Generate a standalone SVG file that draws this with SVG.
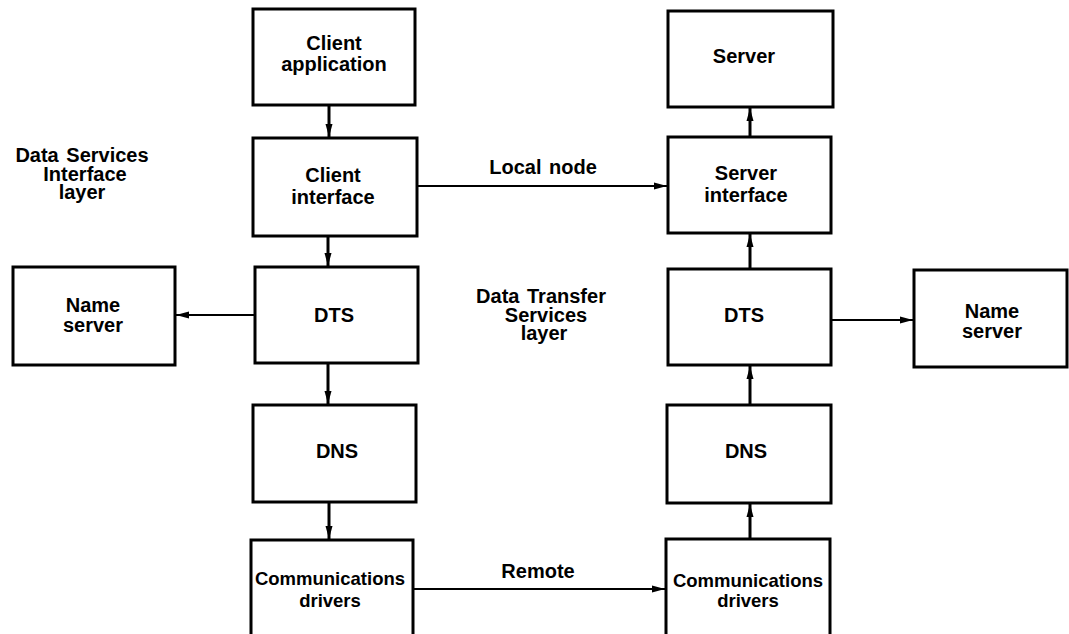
<svg xmlns="http://www.w3.org/2000/svg" width="1069" height="634" viewBox="0 0 1069 634">
<style>
.box{fill:#fff;stroke:#000;stroke-width:3}
.t{font-family:"Liberation Sans",Arial,sans-serif;font-weight:bold;font-size:20px;word-spacing:2px;fill:#000;text-anchor:middle}
.s{font-size:18.5px;word-spacing:0}
.c{stroke:#000;stroke-width:3;fill:none;marker-end:url(#ah)}
.h{stroke-width:2.2}
</style>
<defs>
<marker id="ah" markerUnits="userSpaceOnUse" markerWidth="14" markerHeight="9" refX="13" refY="4" orient="auto">
<path d="M0,0.5 L13,4 L0,7.5 z" fill="#000"/>
</marker>
</defs>
<rect width="1069" height="634" fill="#fff"/>
<g id="connectors">
<line class="c" x1="329" y1="105" x2="329" y2="137"/>
<line class="c" x1="328" y1="236" x2="328" y2="266"/>
<line class="c" x1="328" y1="363" x2="328" y2="404"/>
<line class="c" x1="329" y1="502" x2="329" y2="539"/>
<line class="c h" x1="255" y1="315" x2="176" y2="315"/>
<line class="c h" x1="417" y1="186" x2="667" y2="186"/>
<line class="c h" x1="413" y1="589" x2="665" y2="589"/>
<line class="c" x1="750" y1="539" x2="750" y2="504"/>
<line class="c" x1="750" y1="405" x2="750" y2="366"/>
<line class="c" x1="750" y1="269" x2="750" y2="234"/>
<line class="c" x1="750" y1="137" x2="750" y2="108"/>
<line class="c h" x1="831" y1="320" x2="913" y2="320"/>
</g>
<g id="layer-labels">
<text class="t" x="82" y="162">Data Services</text>
<text class="t" x="85" y="181">Interface</text>
<text class="t" x="82" y="199">layer</text>
<text class="t" x="543" y="174">Local node</text>
<text class="t" x="541" y="303">Data Transfer</text>
<text class="t" x="546" y="322">Services</text>
<text class="t" x="544" y="340">layer</text>
<text class="t" x="538" y="578">Remote</text>
</g>
<g id="client-application">
<rect class="box" x="253" y="9" width="162" height="96"/>
<text class="t" x="334" y="50">Client</text>
<text class="t" x="334" y="71">application</text>
</g>
<g id="client-interface">
<rect class="box" x="253" y="138" width="164" height="98"/>
<text class="t" x="333" y="182">Client</text>
<text class="t" x="333" y="204">interface</text>
</g>
<g id="dts-left">
<rect class="box" x="255" y="267" width="163" height="96"/>
<text class="t" x="334" y="322">DTS</text>
</g>
<g id="name-server-left">
<rect class="box" x="13" y="267" width="162" height="98"/>
<text class="t" x="93" y="312">Name</text>
<text class="t" x="93" y="332">server</text>
</g>
<g id="dns-left">
<rect class="box" x="253" y="405" width="163" height="97"/>
<text class="t" x="337" y="458">DNS</text>
</g>
<g id="comm-left">
<rect class="box" x="251" y="540" width="162" height="110"/>
<text class="t s" x="330" y="585">Communications</text>
<text class="t s" x="330" y="607">drivers</text>
</g>
<g id="server">
<rect class="box" x="668" y="11" width="165" height="96"/>
<text class="t" x="744" y="63">Server</text>
</g>
<g id="server-interface">
<rect class="box" x="668" y="137" width="163" height="96"/>
<text class="t" x="746" y="180">Server</text>
<text class="t" x="746" y="202">interface</text>
</g>
<g id="dts-right">
<rect class="box" x="668" y="269" width="163" height="96"/>
<text class="t" x="744" y="322">DTS</text>
</g>
<g id="name-server-right">
<rect class="box" x="914" y="270" width="153" height="97"/>
<text class="t" x="992" y="318">Name</text>
<text class="t" x="992" y="338">server</text>
</g>
<g id="dns-right">
<rect class="box" x="667" y="405" width="164" height="98"/>
<text class="t" x="746" y="458">DNS</text>
</g>
<g id="comm-right">
<rect class="box" x="666" y="539" width="164" height="110"/>
<text class="t s" x="748" y="587">Communications</text>
<text class="t s" x="748" y="607">drivers</text>
</g>
</svg>
